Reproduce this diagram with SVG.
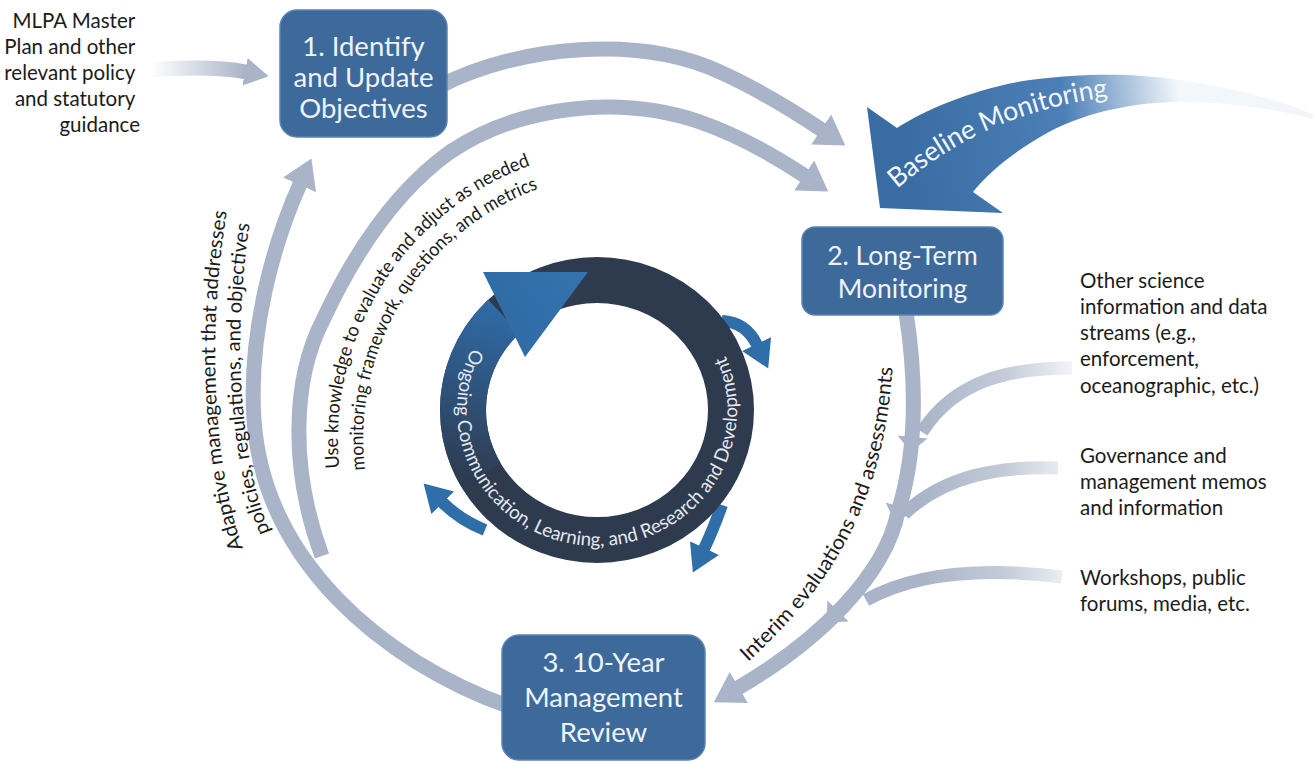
<svg xmlns="http://www.w3.org/2000/svg" width="1315" height="763" viewBox="0 0 1315 763">
<defs>
<style>
.lbl{font-family:Lato,"Liberation Sans",sans-serif;font-size:20.5px;fill:#1b1b1b}
.arc{font-family:Lato,"Liberation Sans",sans-serif;font-size:20px;fill:#1b1b1b}
.bx{fill:#3d6a9b;stroke:#5a84b2;stroke-width:1.5}
.bt{font-family:Lato,"Liberation Sans",sans-serif;font-size:27.5px;fill:#eef3f9;text-anchor:middle}
.g{fill:none;stroke:#a9b4c8;stroke-width:15}
.gh{fill:#a9b4c8}
.bl{fill:none;stroke:#2f6ea9;stroke-width:12}
.rt{font-family:Lato,"Liberation Sans",sans-serif;font-size:19px;fill:#e4e9f0}
</style>
<marker id="mg" markerUnits="userSpaceOnUse" markerWidth="32" markerHeight="40" viewBox="0 -20 32 40" refX="1" refY="0" orient="auto"><path d="M0,-18 L29,0 L0,18 Z" fill="#a9b4c8"/></marker>
<marker id="mg2" markerUnits="userSpaceOnUse" markerWidth="28" markerHeight="32" viewBox="0 -16 28 32" refX="1" refY="0" orient="auto"><path d="M0,-14 L24,0 L0,14 Z" fill="#a9b4c8"/></marker>
<marker id="mb" markerUnits="userSpaceOnUse" markerWidth="30" markerHeight="36" viewBox="0 -18 30 36" refX="1" refY="0" orient="auto"><path d="M0,-16 L27,0 L0,16 Z" fill="#2f6ea9"/></marker>
<linearGradient id="gin" gradientUnits="userSpaceOnUse" x1="150" y1="0" x2="246" y2="0"><stop offset="0" stop-color="#ffffff"/><stop offset="1" stop-color="#a9b4c8"/></linearGradient>
<linearGradient id="gbr" gradientUnits="userSpaceOnUse" x1="920" y1="0" x2="1072" y2="0"><stop offset="0" stop-color="#a9b4c8"/><stop offset="0.55" stop-color="#c3cbd8"/><stop offset="1" stop-color="#f1f3f6"/></linearGradient>
<linearGradient id="gbase" gradientUnits="userSpaceOnUse" x1="900" y1="150" x2="1315" y2="100"><stop offset="0" stop-color="#396ca3"/><stop offset="0.4" stop-color="#4b7fb6"/><stop offset="0.68" stop-color="#f5f8fb"/><stop offset="1" stop-color="#f3f5f8"/></linearGradient>
<linearGradient id="gring" gradientUnits="userSpaceOnUse" x1="470" y1="485" x2="515" y2="315"><stop offset="0" stop-color="#2e3a4e"/><stop offset="1" stop-color="#2f6aa4"/></linearGradient>
<linearGradient id="ghead" gradientUnits="userSpaceOnUse" x1="490" y1="340" x2="585" y2="275"><stop offset="0" stop-color="#2f6aa4"/><stop offset="1" stop-color="#3473af"/></linearGradient>
</defs>
<rect width="1315" height="763" fill="#ffffff"/>

<g id="connectors">
  <path d="M150,70 C190,67 220,67 246,72" fill="none" stroke="url(#gin)" stroke-width="15" marker-end="url(#mg2)"/>
  <path class="g" d="M440,86 C520,45 640,35 720,72 C760,90 795,112 822,130" marker-end="url(#mg)"/>
  <path class="g" d="M322,556 C290,470 292,380 323,320 C350,262 390,195 450,152 C520,105 620,95 700,122 C740,136 775,156 805,176" marker-end="url(#mg)"/>
  <path class="g" d="M510,707 C380,660 264,560 254,420 C248,330 275,240 300,184" marker-end="url(#mg)"/>
  <path d="M1072,368 C1010,368 955,380 922,432" fill="none" stroke="url(#gbr)" stroke-width="13"/>
  <path d="M1058,468 C1000,466 945,475 904,514" fill="none" stroke="url(#gbr)" stroke-width="13"/>
  <path d="M1062,577 C990,568 920,570 866,600" fill="none" stroke="url(#gbr)" stroke-width="13"/>
  <path class="g" d="M906,312 C918,390 916,455 898,512 C885,575 820,640 738,688" stroke-width="14" marker-end="url(#mg)"/>
  <polygon class="gh" points="927.5,438.5 897.5,435.5 911,452"/>
  <polygon class="gh" points="914.3,511.5 885.7,502.5 895,522"/>
  <polygon class="gh" points="848.6,621.6 827.4,600.4 826.6,622.4"/>
</g>

<g id="baseline-monitoring">
  <path d="M880,208 L867,107 L897,128 C925,110 975,88 1030,80 C1090,72 1140,74 1180,80 C1240,89 1290,103 1313,115 L1313,119 C1280,110 1230,102 1180,102 C1140,102 1090,110 1047,133 C1020,148 990,170 973,192 L1003,213 Z" fill="url(#gbase)"/>
  <path id="tpBase" d="M897,189 C960,135 1030,105 1124,95" fill="none"/>
  <text style="font-family:Lato,'Liberation Sans',sans-serif;font-size:27px;fill:#f3f6fa"><textPath href="#tpBase" textLength="234" lengthAdjust="spacingAndGlyphs">Baseline Monitoring</textPath></text>
</g>

<g id="ongoing-ring">
  <path class="bl" d="M722,321 Q746,322 757,345" marker-end="url(#mb)"/>
  <path class="bl" d="M485,530 Q460,520 442,502" marker-end="url(#mb)"/>
  <path class="bl" d="M722,505 Q713,530 704,549" marker-end="url(#mb)"/>
  <ellipse cx="597" cy="410" rx="134" ry="130" fill="none" stroke="#2e3a4e" stroke-width="46"/>
  <path d="M481,475 A134,130 0 0 1 503.9,316.5" fill="none" stroke="url(#gring)" stroke-width="46"/>
  <polygon points="483,272 525,357 588,272" fill="url(#ghead)"/>
  <path id="tpRing" d="M472.3,348.3 A140,136 0 1 0 722.9,350.4" fill="none"/>
  <text class="rt"><textPath href="#tpRing" textLength="553" lengthAdjust="spacingAndGlyphs">Ongoing Communication, Learning, and Research and Development</textPath></text>
</g>

<g id="node-1">
  <rect class="bx" x="280" y="10" width="167" height="127" rx="17"/>
  <text class="bt" x="363.5" y="56">1. Identify</text>
  <text class="bt" x="363.5" y="87">and Update</text>
  <text class="bt" x="363.5" y="118">Objectives</text>
</g>

<g id="node-2">
  <rect class="bx" x="802" y="227" width="201" height="88" rx="13"/>
  <text class="bt" x="902.5" y="265" style="font-size:26.5px">2. Long-Term</text>
  <text class="bt" x="902.5" y="298" style="font-size:26.5px">Monitoring</text>
</g>

<g id="node-3">
  <rect class="bx" x="502" y="635" width="203" height="125" rx="17"/>
  <text class="bt" x="603.5" y="672">3. 10-Year</text>
  <text class="bt" x="603.5" y="707">Management</text>
  <text class="bt" x="603.5" y="742">Review</text>
</g>

<g id="labels">
  <text class="lbl" text-anchor="end">
    <tspan x="140" y="28">MLPA Master</tspan>
    <tspan x="140" y="54">Plan and other</tspan>
    <tspan x="140" y="80">relevant policy</tspan>
    <tspan x="140" y="106">and statutory</tspan>
    <tspan x="140" y="132">guidance</tspan>
  </text>
  <text class="lbl">
    <tspan x="1080" y="288">Other science</tspan>
    <tspan x="1080" y="314">information and data</tspan>
    <tspan x="1080" y="340">streams (e.g.,</tspan>
    <tspan x="1080" y="366">enforcement,</tspan>
    <tspan x="1080" y="393">oceanographic, etc.)</tspan>
  </text>
  <text class="lbl">
    <tspan x="1080" y="463">Governance and</tspan>
    <tspan x="1080" y="489">management memos</tspan>
    <tspan x="1080" y="515">and information</tspan>
  </text>
  <text class="lbl">
    <tspan x="1080" y="585">Workshops, public</tspan>
    <tspan x="1080" y="611">forums, media, etc.</tspan>
  </text>

  <path id="tpA1" d="M243,548 C215,470 205,340 228,205" fill="none"/>
  <path id="tpA2" d="M270,532 C240,460 232,340 250,222" fill="none"/>
  <text class="arc"><textPath href="#tpA1" textLength="340" lengthAdjust="spacingAndGlyphs">Adaptive management that addresses</textPath></text>
  <text class="arc"><textPath href="#tpA2" textLength="312" lengthAdjust="spacingAndGlyphs">policies, regulations, and objectives</textPath></text>

  <path id="tpU1" d="M339.3,468 A292,292 0 0 1 554.4,157.9" fill="none"/>
  <path id="tpU2" d="M365,470 A267,267 0 0 1 546,186" fill="none"/>
  <text class="arc" style="font-size:19px"><textPath href="#tpU1" textLength="385" lengthAdjust="spacingAndGlyphs">Use knowledge to evaluate and adjust as needed</textPath></text>
  <text class="arc" style="font-size:19px"><textPath href="#tpU2" textLength="356" lengthAdjust="spacingAndGlyphs">monitoring framework, questions, and metrics</textPath></text>

  <path id="tpI" d="M748,662 C815,600 885,520 893,360" fill="none"/>
  <text class="arc" style="font-size:20.5px"><textPath href="#tpI" textLength="338" lengthAdjust="spacingAndGlyphs">Interim evaluations and assessments</textPath></text>
</g>
</svg>
